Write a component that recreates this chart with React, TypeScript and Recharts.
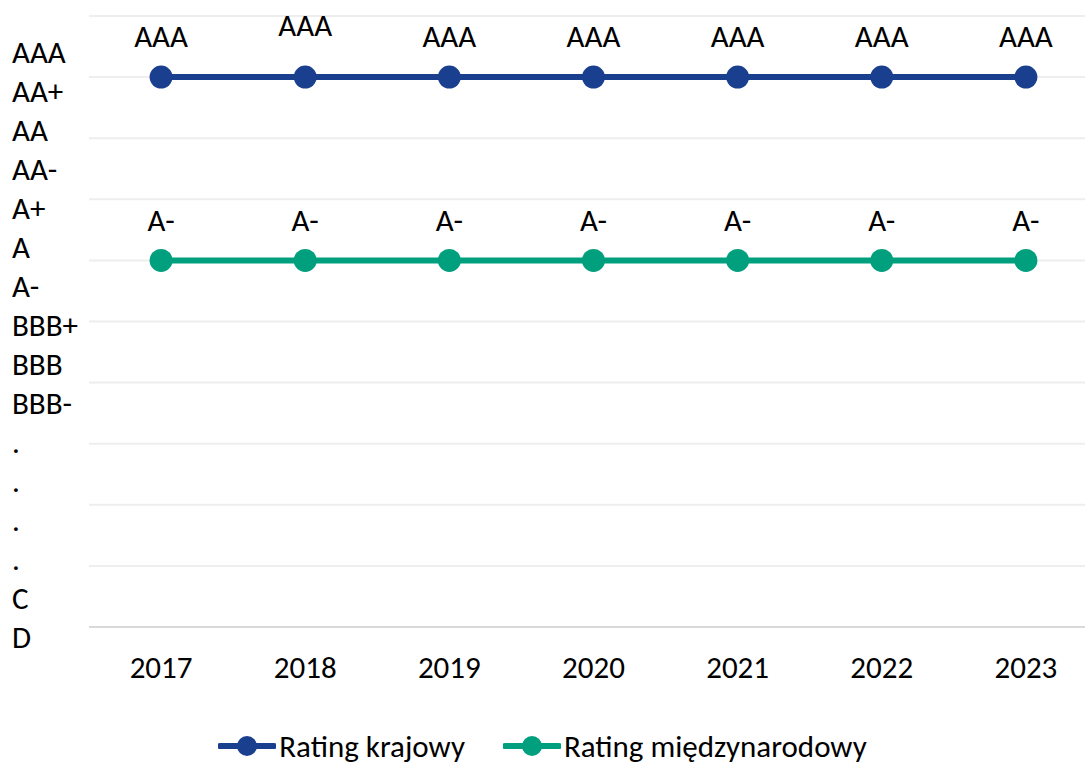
import React from 'react';
import { LineChart, Line, XAxis, YAxis, CartesianGrid, Legend, LabelList } from 'recharts';

const years = [2017, 2018, 2019, 2020, 2021, 2022, 2023];
const domesticValues = [9, 9, 9, 9, 9, 9, 9];
const internationalValues = [6, 6, 6, 6, 6, 6, 6];
const domesticLabels = ['AAA', 'AAA', 'AAA', 'AAA', 'AAA', 'AAA', 'AAA'];
const internationalLabels = ['A-', 'A-', 'A-', 'A-', 'A-', 'A-', 'A-'];
const gridTicks = [0, 1, 2, 3, 4, 5, 6, 7, 8, 9, 10];
// rating scale printed on the left, best first
const ratingScale = ['AAA', 'AA+', 'AA', 'AA-', 'A+', 'A', 'A-', 'BBB+', 'BBB', 'BBB-', '.', '.', '.', '.', 'C', 'D'];

const BLUE = '#1b3f8f';
const GREEN = '#00a07e';
const FONT = 'Carlito, Calibri, Lato, sans-serif';
const FS = 31;

const data = years.map((year, i) => ({
  year,
  domestic: domesticValues[i],
  international: internationalValues[i],
  domesticLabel: domesticLabels[i],
  internationalLabel: internationalLabels[i],
}));

const scaleIndex = ratingScale.map((_, i) => ratingScale.length - 1 - i);

const RatingTick = (props: any) => {
  const { y, payload } = props;
  const label = ratingScale[ratingScale.length - 1 - payload.value];
  return (
    <text x={12} y={y} dy="0.36em" textAnchor="start" fontSize={FS} fontFamily={FONT} fill="#000">
      {label}
    </text>
  );
};

const makePointLabel = (raisedIndex: number | null) => (props: any) => {
  const { x, y, value, index } = props;
  const lift = index === raisedIndex ? 11 : 0;
  return (
    <text x={x} y={y - 41 - lift} dy="0.36em" textAnchor="middle" fontSize={FS} fontFamily={FONT} fill="#000">
      {value}
    </text>
  );
};

const legendItems = [
  { name: 'Rating krajowy', color: BLUE },
  { name: 'Rating międzynarodowy', color: GREEN },
];

const LegendContent = () => (
  <div style={{ display: 'flex', justifyContent: 'center', gap: 38, height: 34, fontFamily: FONT, fontSize: FS, lineHeight: '34px' }}>
    {legendItems.map((item) => (
      <div key={item.name} style={{ display: 'flex', alignItems: 'center' }}>
        <svg width={58} height={24} style={{ marginRight: 3 }}>
          <line x1={2} y1={12} x2={56} y2={12} stroke={item.color} strokeWidth={6} strokeLinecap="round" />
          <circle cx={29} cy={12} r={10} fill={item.color} />
        </svg>
        <span>{item.name}</span>
      </div>
    ))}
  </div>
);

export default function App() {
  return (
    <div style={{ position: 'absolute', left: 0, top: 0 }}>
      <LineChart width={1085} height={763} data={data} margin={{ top: 16, right: 0, left: 0, bottom: 0 }}>
        <CartesianGrid yAxisId="grid" vertical={false} stroke="#eeeeee" strokeWidth={2} />
        <XAxis
          dataKey="year"
          type="number"
          domain={[2016.5, 2023.41]}
          ticks={years}
          interval={0}
          height={102}
          axisLine={{ stroke: '#d9d9d9', strokeWidth: 2 }}
          tickLine={false}
          tickSize={0}
          tickMargin={29}
          tick={{ fontSize: FS, fontFamily: FONT, fill: '#000' }}
        />
        <YAxis yAxisId="grid" domain={[0, 10]} ticks={gridTicks} hide />
        <YAxis
          yAxisId="scale"
          type="number"
          domain={[10 / 39, 10 / 39 + 611 / 39]}
          ticks={scaleIndex}
          interval={0}
          width={89}
          axisLine={false}
          tickLine={false}
          tick={<RatingTick />}
          allowDataOverflow
        />
        <Legend verticalAlign="bottom" content={<LegendContent />} />
        <Line
          yAxisId="grid"
          dataKey="domestic"
          name="Rating krajowy"
          stroke={BLUE}
          strokeWidth={6}
          dot={{ r: 11.5, fill: BLUE, stroke: BLUE, strokeWidth: 0 }}
          isAnimationActive={false}
        >
          <LabelList dataKey="domesticLabel" content={makePointLabel(1)} />
        </Line>
        <Line
          yAxisId="grid"
          dataKey="international"
          name="Rating międzynarodowy"
          stroke={GREEN}
          strokeWidth={6}
          dot={{ r: 11.5, fill: GREEN, stroke: GREEN, strokeWidth: 0 }}
          isAnimationActive={false}
        >
          <LabelList dataKey="internationalLabel" content={makePointLabel(null)} />
        </Line>
      </LineChart>
    </div>
  );
}
